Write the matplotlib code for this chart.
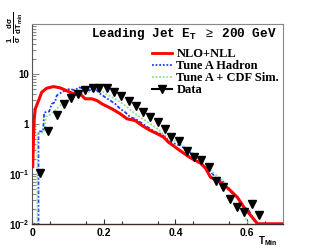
import numpy as np
import matplotlib
matplotlib.use("Agg")
import matplotlib.pyplot as plt
from matplotlib.lines import Line2D
from matplotlib.ticker import FixedLocator, NullFormatter

# --- data ---
nlo_x = [0.002, 0.004, 0.006, 0.009, 0.018, 0.027, 0.041, 0.06, 0.078, 0.092, 0.111,
         0.125, 0.139, 0.148, 0.167, 0.181, 0.195, 0.223, 0.246, 0.265, 0.288, 0.307,
         0.33, 0.349, 0.367, 0.381, 0.414, 0.442, 0.47, 0.484, 0.498, 0.526, 0.549,
         0.573, 0.591, 0.61, 0.629, 0.7]
nlo_y = [0.14, 0.5, 1.2, 2.0, 2.9, 4.3, 5.2, 5.6, 5.3, 4.8, 4.15,
         4.0, 3.72, 3.19, 3.19, 2.95, 2.53, 2.01, 1.6, 1.27, 1.17, 0.93,
         0.74, 0.64, 0.545, 0.43, 0.29, 0.21, 0.165, 0.13, 0.086, 0.068, 0.05,
         0.034, 0.0217, 0.0148, 0.0101, 0.0101]

hadron_x = [0.0, 0.018, 0.018, 0.031, 0.034, 0.048, 0.055, 0.064, 0.069, 0.083, 0.092,
            0.106, 0.12, 0.13, 0.144, 0.157, 0.171, 0.181, 0.19, 0.204, 0.218, 0.232,
            0.246, 0.26, 0.274, 0.288, 0.302, 0.316, 0.33, 0.344, 0.358, 0.372, 0.386,
            0.414, 0.442, 0.456, 0.47, 0.484, 0.5, 0.516, 0.531, 0.549, 0.568, 0.591,
            0.605, 0.619, 0.629]
hadron_y = [0.0101, 0.0101, 0.71, 0.71, 1.7, 1.78, 2.53, 2.73, 3.72, 4.32, 4.67,
            5.06, 4.67, 5.45, 5.06, 4.67, 5.06, 4.67, 4.02, 3.44, 2.95, 2.53,
            2.01, 1.72, 1.37, 1.27, 1.09, 0.93, 0.80, 0.69, 0.64, 0.545, 0.43,
            0.37, 0.27, 0.235, 0.172, 0.137, 0.107, 0.079, 0.074, 0.047, 0.037, 0.0217,
            0.0187, 0.0117, 0.0101]

cdf_x = [0.0, 0.015, 0.015, 0.034, 0.039, 0.046, 0.06, 0.069, 0.081, 0.097, 0.111,
         0.125, 0.143, 0.157, 0.171, 0.176, 0.19, 0.204, 0.232, 0.26, 0.288, 0.316,
         0.344, 0.372, 0.4, 0.428, 0.456, 0.484, 0.503, 0.526, 0.548, 0.571, 0.596,
         0.604]
cdf_y = [0.0101, 0.0101, 0.68, 0.68, 1.41, 1.48, 1.72, 2.01, 2.45, 2.95, 3.44,
         4.02, 4.02, 4.32, 4.67, 5.45, 5.0, 4.02, 3.19, 2.34, 1.6, 1.17,
         0.86, 0.59, 0.45, 0.34, 0.235, 0.155, 0.109, 0.081, 0.051, 0.036, 0.0127,
         0.0101]

data_x = [0.022, 0.046, 0.069, 0.088, 0.108, 0.128, 0.149, 0.169, 0.188, 0.209, 0.229,
          0.249, 0.27, 0.29, 0.31, 0.33, 0.351, 0.371, 0.389, 0.409, 0.431, 0.451,
          0.472, 0.493, 0.512, 0.533, 0.551, 0.573, 0.591, 0.613, 0.633]
data_y = [0.104, 0.72, 1.48, 2.51, 3.24, 3.93, 4.68, 5.13, 5.37, 5.37, 4.37,
          3.66, 2.95, 2.29, 1.72, 1.37, 1.09, 0.79, 0.55, 0.45, 0.295, 0.217,
          0.192, 0.137, 0.071, 0.054, 0.031, 0.0217, 0.0172, 0.0254, 0.0153]

labels = ["NLO+NLL", "Tune A Hadron", "Tune A + CDF Sim.", "Data"]
ytick_vals = [0.01, 0.1, 1, 10]
ytick_labels = [r"$\mathbf{10^{-2}}$", r"$\mathbf{10^{-1}}$", "1", "10"]
xtick_vals = [0, 0.2, 0.4, 0.6]

plt.rcParams["font.family"] = ["Liberation Sans", "DejaVu Sans"]
plt.rcParams["mathtext.fontset"] = "custom"
plt.rcParams["mathtext.rm"] = "Liberation Sans"
plt.rcParams["mathtext.bf"] = "Liberation Sans:bold"
plt.rcParams["mathtext.it"] = "Liberation Sans:italic"

fig = plt.figure(figsize=(3.15, 2.5), dpi=100)
ax = fig.add_axes([0.1016, 0.104, 0.7968, 0.8])

ax.plot(nlo_x, nlo_y, color="#ff0000", lw=2.2, solid_joinstyle="round", zorder=3)
ax.plot(hadron_x, hadron_y, color="#1f3fff", lw=1.3, ls=(0, (2, 1, 1, 1)), zorder=2)
ax.plot(cdf_x, cdf_y, color="#8ee08e", lw=1.3, ls=(0, (1, 1)), zorder=2)
ax.plot(data_x, data_y, ls="none", marker="v", color="black", ms=5.8, zorder=4)

ax.set_yscale("log")
ax.set_xlim(0, 0.7)
ax.set_ylim(0.01, 100)

ax.yaxis.set_major_locator(FixedLocator(ytick_vals))
ax.set_yticklabels(ytick_labels)
minors = [m * 10.0 ** e for e in range(-2, 2) for m in range(2, 10)]
ax.yaxis.set_minor_locator(FixedLocator(minors))
ax.yaxis.set_minor_formatter(NullFormatter())
ax.set_xticks(xtick_vals)
ax.set_xticklabels(["0", "0.2", "0.4", "0.6"])
ax.xaxis.set_minor_locator(FixedLocator(np.arange(0.05, 0.7, 0.1)))

ax.tick_params(axis="y", which="major", direction="in", length=5, width=0.8,
               color="#888888", labelsize=7, pad=2)
ax.tick_params(axis="y", which="minor", direction="in", length=2.8, width=0.8,
               color="#888888")
ax.tick_params(axis="x", which="major", direction="in", length=3.5, width=0.8,
               color="#333333", labelsize=7.5, pad=3)
ax.tick_params(axis="x", which="minor", direction="in", length=2.5, width=0.8,
               color="#333333")
for t in ax.get_xticklabels() + ax.get_yticklabels():
    t.set_fontweight("bold")

ax.spines["left"].set_color("#555555")
ax.spines["bottom"].set_color("#3a2a2a")
ax.spines["bottom"].set_linewidth(1.0)
for s in ["top", "right"]:
    ax.spines[s].set_color("#888888")

ax.text(0.236, 0.95, r"Leading Jet E$_\mathbf{T}$ $\geq$ 200 GeV", transform=ax.transAxes,
        family=["Liberation Mono", "DejaVu Sans Mono"], fontweight="bold", fontsize=9.1,
        va="center", ha="left")

handles = [
    Line2D([], [], color="#ff0000", lw=2),
    Line2D([], [], color="#1f3fff", lw=1.3, ls=(0, (1, 1))),
    Line2D([], [], color="#8ee08e", lw=1.3, ls=(0, (1, 1))),
    Line2D([], [], color="black", lw=1.5, marker="v", ms=5.5),
]
ax.legend(handles, labels, loc="upper left", bbox_to_anchor=(0.478, 0.878),
          frameon=False, prop={"family": "Liberation Serif", "weight": "bold", "size": 9},
          handlelength=1.6, handletextpad=0.35, labelspacing=0.0, borderpad=0,
          borderaxespad=0)

fig.text(0.048, 0.89, r"$\mathbf{\frac{1}{\sigma}\ \frac{d\sigma}{dT_{min}}}$",
         rotation=90, ha="center", va="center", fontsize=8)
fig.text(0.85, 0.035, r"T$_\mathbf{Min}$", fontsize=7, fontweight="bold",
         ha="center", va="center")

fig.savefig("out.png", dpi=100)
